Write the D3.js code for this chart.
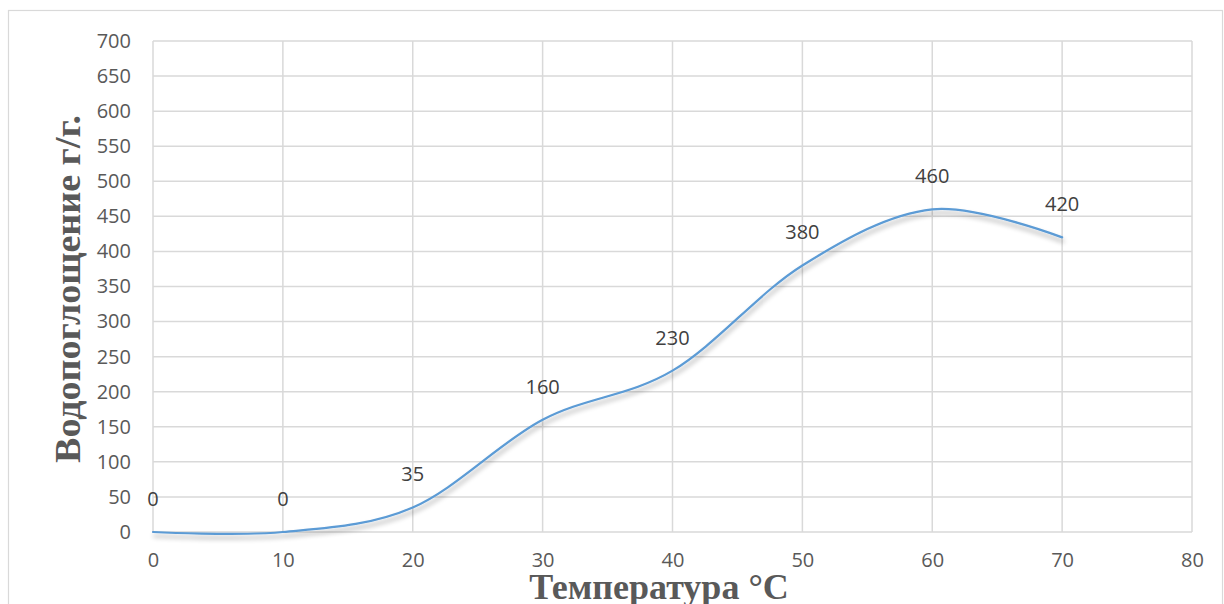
<!DOCTYPE html>
<html>
<head>
<meta charset="utf-8">
<script src="https://cdn.jsdelivr.net/npm/d3@7"></script>
<style>
  html, body { margin: 0; padding: 0; background: #fff; }
  svg { display: block; }
</style>
</head>
<body>
<svg id="chart" width="1224" height="604"></svg>
<script>
// Water absorption versus temperature
const temperature = [0, 10, 20, 30, 40, 50, 60, 70];
const absorption  = [0, 0, 35, 160, 230, 380, 460, 420];
const xTicks = [0, 10, 20, 30, 40, 50, 60, 70, 80];
const yTicks = [0, 50, 100, 150, 200, 250, 300, 350, 400, 450, 500, 550, 600, 650, 700];
const xTitle = "Температура °С";
const yTitle = "Водопоглощение г/г.";

const svg = d3.select("#chart");
const plot = { left: 153, right: 1192, top: 41, bottom: 532 };

const x = d3.scaleLinear().domain([0, 80]).range([plot.left, plot.right]);
const y = d3.scaleLinear().domain([0, 700]).range([plot.bottom, plot.top]);

// outer chart frame
svg.append("rect")
  .attr("x", 8.5).attr("y", 10.5)
  .attr("width", 1214).attr("height", 620)
  .attr("fill", "#fff").attr("stroke", "#d9d9d9").attr("stroke-width", 1.2);

const defs = svg.append("defs");
const shadow = defs.append("filter").attr("id", "lineShadow")
  .attr("x", "-5%").attr("y", "-10%").attr("width", "110%").attr("height", "130%");
shadow.append("feGaussianBlur").attr("in", "SourceAlpha").attr("stdDeviation", 2.5).attr("result", "blur");
shadow.append("feOffset").attr("in", "blur").attr("dx", 1).attr("dy", 4).attr("result", "off");
shadow.append("feComponentTransfer").attr("in", "off").attr("result", "soft")
  .append("feFuncA").attr("type", "linear").attr("slope", 0.35);
const merge = shadow.append("feMerge");
merge.append("feMergeNode").attr("in", "soft");
merge.append("feMergeNode").attr("in", "SourceGraphic");

// gridlines
const grid = svg.append("g").attr("stroke", "#d9d9d9").attr("stroke-width", 1.5);
grid.selectAll("line.h").data(yTicks).join("line")
  .attr("x1", plot.left).attr("x2", plot.right)
  .attr("y1", d => y(d)).attr("y2", d => y(d));
grid.selectAll("line.v").data(xTicks).join("line")
  .attr("x1", d => x(d)).attr("x2", d => x(d))
  .attr("y1", plot.top).attr("y2", plot.bottom);

// axes (tick labels only)
const tickFont = "'Open Sans', sans-serif";
const yAxis = svg.append("g")
  .attr("transform", `translate(${plot.left},0)`)
  .call(d3.axisLeft(y).tickValues(yTicks).tickSize(0).tickPadding(22));
yAxis.select(".domain").remove();
yAxis.selectAll("text")
  .attr("font-family", tickFont).attr("font-size", 20).attr("fill", "#595959");

const xAxis = svg.append("g")
  .attr("transform", `translate(0,${plot.bottom})`)
  .call(d3.axisBottom(x).tickValues(xTicks).tickSize(0).tickPadding(21));
xAxis.select(".domain").remove();
xAxis.selectAll("text")
  .attr("font-family", tickFont).attr("font-size", 20).attr("fill", "#595959");

// smoothed series line
const pts = temperature.map((t, i) => [t, absorption[i]]);
const line = d3.line()
  .x(d => x(d[0])).y(d => y(d[1]))
  .curve(d3.curveCatmullRom.alpha(0));
svg.append("path")
  .datum(pts)
  .attr("d", line)
  .attr("fill", "none")
  .attr("stroke", "#5b9bd5")
  .attr("stroke-width", 2.2)
  .attr("stroke-linecap", "round")
  .attr("filter", "url(#lineShadow)");

// data labels
svg.append("g").selectAll("text").data(pts).join("text")
  .attr("x", d => x(d[0]))
  .attr("y", d => y(d[1]) - 26)
  .attr("text-anchor", "middle")
  .attr("font-family", tickFont).attr("font-size", 20).attr("fill", "#404040")
  .text(d => d[1]);

// axis titles
const titleFont = "'Liberation Serif', 'Times New Roman', serif";
svg.append("text")
  .attr("x", 659).attr("y", 599)
  .attr("text-anchor", "middle")
  .attr("font-family", titleFont)
  .attr("font-weight", "bold").attr("font-size", 36).attr("fill", "#595959")
  .text(xTitle);

svg.append("text")
  .attr("transform", "translate(80,289) rotate(-90)")
  .attr("text-anchor", "middle")
  .attr("font-family", titleFont)
  .attr("font-weight", "bold").attr("font-size", 36).attr("fill", "#595959")
  .attr("textLength", 348).attr("lengthAdjust", "spacingAndGlyphs")
  .text(yTitle);
</script>
</body>
</html>
